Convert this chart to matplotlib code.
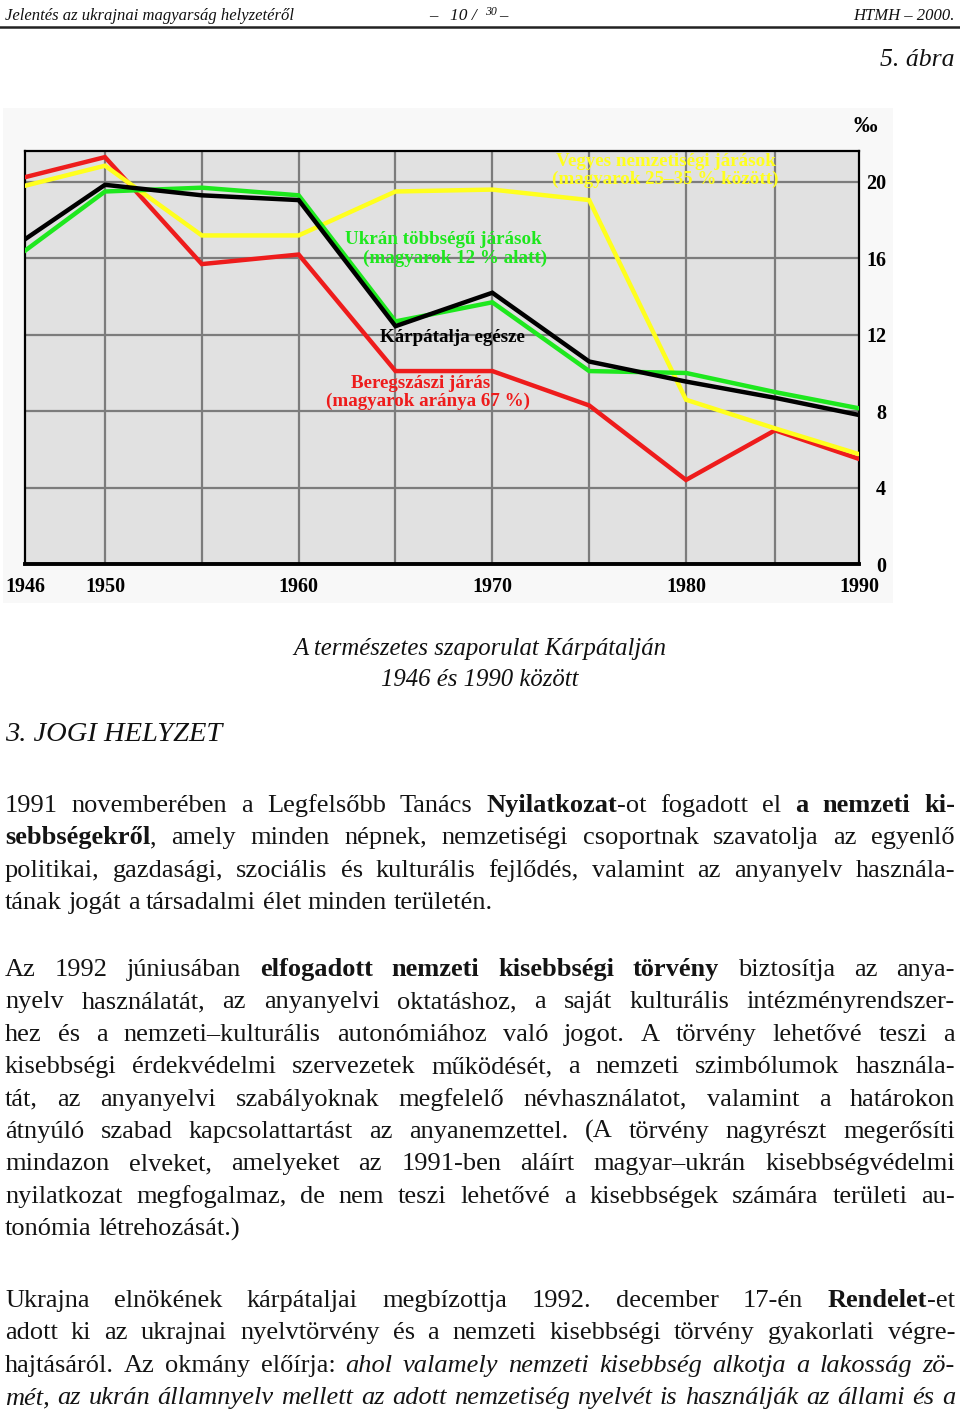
import matplotlib
matplotlib.use('Agg')
import matplotlib.pyplot as plt
import numpy as np
from matplotlib.patches import Rectangle
from matplotlib.lines import Line2D

W, H = 960, 1412

# ── Adatok: természetes szaporulat (‰) ───────────────────────────────────────
years = [1946, 1950, 1955, 1960, 1965, 1970, 1975, 1980, 1985, 1990]
beregszasz = [20.25, 21.3, 15.7, 16.2, 10.1, 10.1, 8.3, 4.4, 7.0, 5.5]
vegyes = [19.8, 20.85, 17.2, 17.2, 19.5, 19.6, 19.05, 8.6, 7.1, 5.75]
ukran = [16.4, 19.5, 19.7, 19.3, 12.7, 13.7, 10.1, 10.0, 9.0, 8.15]
karpatalja = [17.0, 19.85, 19.3, 19.05, 12.45, 14.2, 10.6, 9.55, 8.7, 7.8]

year_labels = [1946, 1950, 1960, 1970, 1980, 1990]
grid_years = [1950, 1955, 1960, 1965, 1970, 1975, 1980, 1985]
y_ticks = [0, 4, 8, 12, 16, 20]

# az eredeti ábra vízszintes tengelye nem egyenletes (utolsó évtized sűrítve)
scale_years = [1946, 1950, 1980, 1985, 1990]
scale_pos = [0, 80, 661, 750, 834]

# ── Szöveg ────────────────────────────────────────────────────────────────────
header_left = "Jelentés az ukrajnai magyarság helyzetéről"
header_right = "HTMH – 2000."
figure_no = "5. ábra"
caption = ["A természetes szaporulat Kárpátalján", "1946 és 1990 között"]
section = "3. JOGI HELYZET"

# *félkövér*, _dőlt_
par1 = [
    "1991 novemberében a Legfelsőbb Tanács *Nyilatkozat*-ot fogadott el *a nemzeti ki-*",
    "*sebbségekről*, amely minden népnek, nemzetiségi csoportnak szavatolja az egyenlő",
    "politikai, gazdasági, szociális és kulturális fejlődés, valamint az anyanyelv használa-",
    "tának jogát a társadalmi élet minden területén.",
]
par2 = [
    "Az 1992 júniusában *elfogadott nemzeti kisebbségi törvény* biztosítja az anya-",
    "nyelv használatát, az anyanyelvi oktatáshoz, a saját kulturális intézményrendszer-",
    "hez és a nemzeti–kulturális autonómiához való jogot. A törvény lehetővé teszi a",
    "kisebbségi érdekvédelmi szervezetek működését, a nemzeti szimbólumok használa-",
    "tát, az anyanyelvi szabályoknak megfelelő névhasználatot, valamint a határokon",
    "átnyúló szabad kapcsolattartást az anyanemzettel. (A törvény nagyrészt megerősíti",
    "mindazon elveket, amelyeket az 1991-ben aláírt magyar–ukrán kisebbségvédelmi",
    "nyilatkozat megfogalmaz, de nem teszi lehetővé a kisebbségek számára területi au-",
    "tonómia létrehozását.)",
]
par3 = [
    "Ukrajna elnökének kárpátaljai megbízottja 1992. december 17-én *Rendelet*-et",
    "adott ki az ukrajnai nyelvtörvény és a nemzeti kisebbségi törvény gyakorlati végre-",
    "hajtásáról. Az okmány előírja: _ahol valamely nemzeti kisebbség alkotja a lakosság zö-_",
    "_mét, az ukrán államnyelv mellett az adott nemzetiség nyelvét is használják az állami és a_",
]

SERIF = 'Liberation Serif'
RED, YELLOW, GREEN, BLACK = '#ee1c1c', '#ffff1e', '#1ee81e', '#000000'


def px(x, y):
    """pixel (bal felső sarokból) -> ábra koordináta"""
    return x / W, 1 - y / H


fig = plt.figure(figsize=(W / 100, H / 100), dpi=100)
fig.patch.set_facecolor('white')

# halvány háttér a beszkennelt ábra mögött
fig.patches.append(Rectangle(px(3, 603), 890 / W, 495 / H, transform=fig.transFigure,
                             facecolor='#f8f8f8', edgecolor='none', zorder=-5))

# ── Diagram ──────────────────────────────────────────────────────────────────
x0, y0 = px(25, 564)
ax = fig.add_axes([x0, y0, (859 - 25) / W, (564 - 151) / H])
ax.set_facecolor('#e1e1e1')


def fwd(x):
    return np.interp(x, scale_years, scale_pos)


def inv(x):
    return np.interp(x, scale_pos, scale_years)


ax.set_xscale('function', functions=(fwd, inv))
ax.set_xlim(1946, 1990)
ax.set_ylim(0, 21.62)

ax.plot(years, beregszasz, color=RED, lw=3.2, solid_joinstyle='miter', zorder=3)
ax.plot(years, vegyes, color=YELLOW, lw=3.2, solid_joinstyle='miter', zorder=3)
ax.plot(years, ukran, color=GREEN, lw=3.2, solid_joinstyle='miter', zorder=4)
ax.plot(years, karpatalja, color=BLACK, lw=3.2, solid_joinstyle='miter', zorder=5)

tick_font = dict(family=SERIF, weight='bold', size=14.5)
ax.xaxis.remove_overlapping_locs = False
ax.set_xticks(year_labels)
ax.set_xticklabels([str(y) for y in year_labels], fontdict=tick_font)
ax.set_xticks(grid_years, minor=True)
ax.xaxis.set_minor_formatter(plt.NullFormatter())
ax.yaxis.tick_right()
ax.set_yticks(y_ticks)
ax.set_yticklabels([str(v) for v in y_ticks], fontdict=tick_font)
for lbl in ax.get_yticklabels():
    lbl.set_horizontalalignment('right')
ax.tick_params(axis='x', which='both', length=0, pad=9)
ax.tick_params(axis='y', which='both', length=0, pad=19.5)

ax.grid(False)
ax.grid(True, axis='x', which='minor', color='#7c7c7c', lw=1.6)
ax.grid(True, axis='y', which='major', color='#7c7c7c', lw=1.6)
ax.set_axisbelow(True)

for side in ['top', 'left', 'right']:
    ax.spines[side].set_linewidth(1.6)
ax.spines['bottom'].set_linewidth(2.8)

lab_font = dict(family=SERIF, weight='bold', size=13.7, ha='center', va='center')
fig.text(*px(666, 162), "Vegyes nemzetiségi járások", color=YELLOW, **lab_font)
fig.text(*px(665, 179), "(magyarok 25–35 % között)", color=YELLOW, **lab_font)
fig.text(*px(443, 240), "Ukrán többségű járások", color=GREEN, **lab_font)
fig.text(*px(455, 258), "(magyarok 12 % alatt)", color=GREEN, **lab_font)
fig.text(*px(452, 338), "Kárpátalja egésze", color=BLACK, **lab_font)
fig.text(*px(421, 383), "Beregszászi járás", color=RED, **lab_font)
fig.text(*px(428, 401), "(magyarok aránya 67 %)", color=RED, **lab_font)
fig.text(*px(865, 127), "‰", family=SERIF, weight='bold', size=17, ha='center', va='center')

# ── Fejléc ───────────────────────────────────────────────────────────────────
ital = dict(family=SERIF, style='italic', color='#111111')
fig.text(*px(5, 20), header_left, size=12, va='baseline', ha='left', **ital)
fig.text(*px(433, 20), "–", size=12, va='baseline', ha='center', **ital)
fig.text(*px(450, 20), "10 /", size=12.5, va='baseline', ha='left', **ital)
fig.text(*px(485, 15), "30", size=8.5, va='baseline', ha='left', **ital)
fig.text(*px(499, 20), "–", size=12, va='baseline', ha='left', **ital)
fig.text(*px(955, 20), header_right, size=12, va='baseline', ha='right', **ital)
fig.add_artist(Line2D([0, 1], [1 - 27 / H] * 2, transform=fig.transFigure,
                      color='#222222', lw=1.8))
fig.text(*px(955, 66), figure_no, size=18.5, va='baseline', ha='right', **ital)

fig.text(*px(480, 655), caption[0], size=17.8, va='baseline', ha='center', **ital)
fig.text(*px(480, 686), caption[1], size=17.8, va='baseline', ha='center', **ital)
fig.text(*px(5, 741), section, size=20.5, va='baseline', ha='left', **ital)

# ── Sorkizárt szövegtörzs ────────────────────────────────────────────────────
renderer = fig.canvas.get_renderer()
BODY_SIZE = 19
LEFT, RIGHT = 5, 955


def font_kw(bold, italic):
    return dict(family=SERIF, size=BODY_SIZE, weight='bold' if bold else 'normal',
                style='italic' if italic else 'normal', color='#141414')


def width(s, bold=False, italic=False):
    t = fig.text(0, 0, s, **font_kw(bold, italic))
    w = t.get_window_extent(renderer=renderer).width
    t.remove()
    return w


def parse(line):
    tokens, cur, buf = [], [], ''
    bold = italic = False
    for ch in line:
        if ch in '*_':
            if buf:
                cur.append((buf, bold, italic))
                buf = ''
            if ch == '*':
                bold = not bold
            else:
                italic = not italic
        elif ch == ' ':
            if buf:
                cur.append((buf, bold, italic))
                buf = ''
            if cur:
                tokens.append(cur)
                cur = []
        else:
            buf += ch
    if buf:
        cur.append((buf, bold, italic))
    if cur:
        tokens.append(cur)
    return tokens


space_w = width("a a") - width("aa")


def draw_line(line, base, justify):
    tokens = parse(line)
    widths = [[width(s, b, i) for s, b, i in tok] for tok in tokens]
    total = sum(sum(w) for w in widths)
    gap = (RIGHT - LEFT - total) / (len(tokens) - 1) if justify and len(tokens) > 1 else space_w
    x = LEFT
    for tok, ws in zip(tokens, widths):
        for (s, b, i), w in zip(tok, ws):
            fig.text(*px(x, base), s, va='baseline', ha='left', **font_kw(b, i))
            x += w
        x += gap


def draw_par(lines, first_base, last_justified=False, step=32.4):
    for k, line in enumerate(lines):
        last = k == len(lines) - 1
        draw_line(line, first_base + k * step, justify=(not last) or last_justified)


draw_par(par1, 812)
draw_par(par2, 976)
draw_par(par3, 1307, last_justified=True)

fig.savefig('out.png', dpi=100)
